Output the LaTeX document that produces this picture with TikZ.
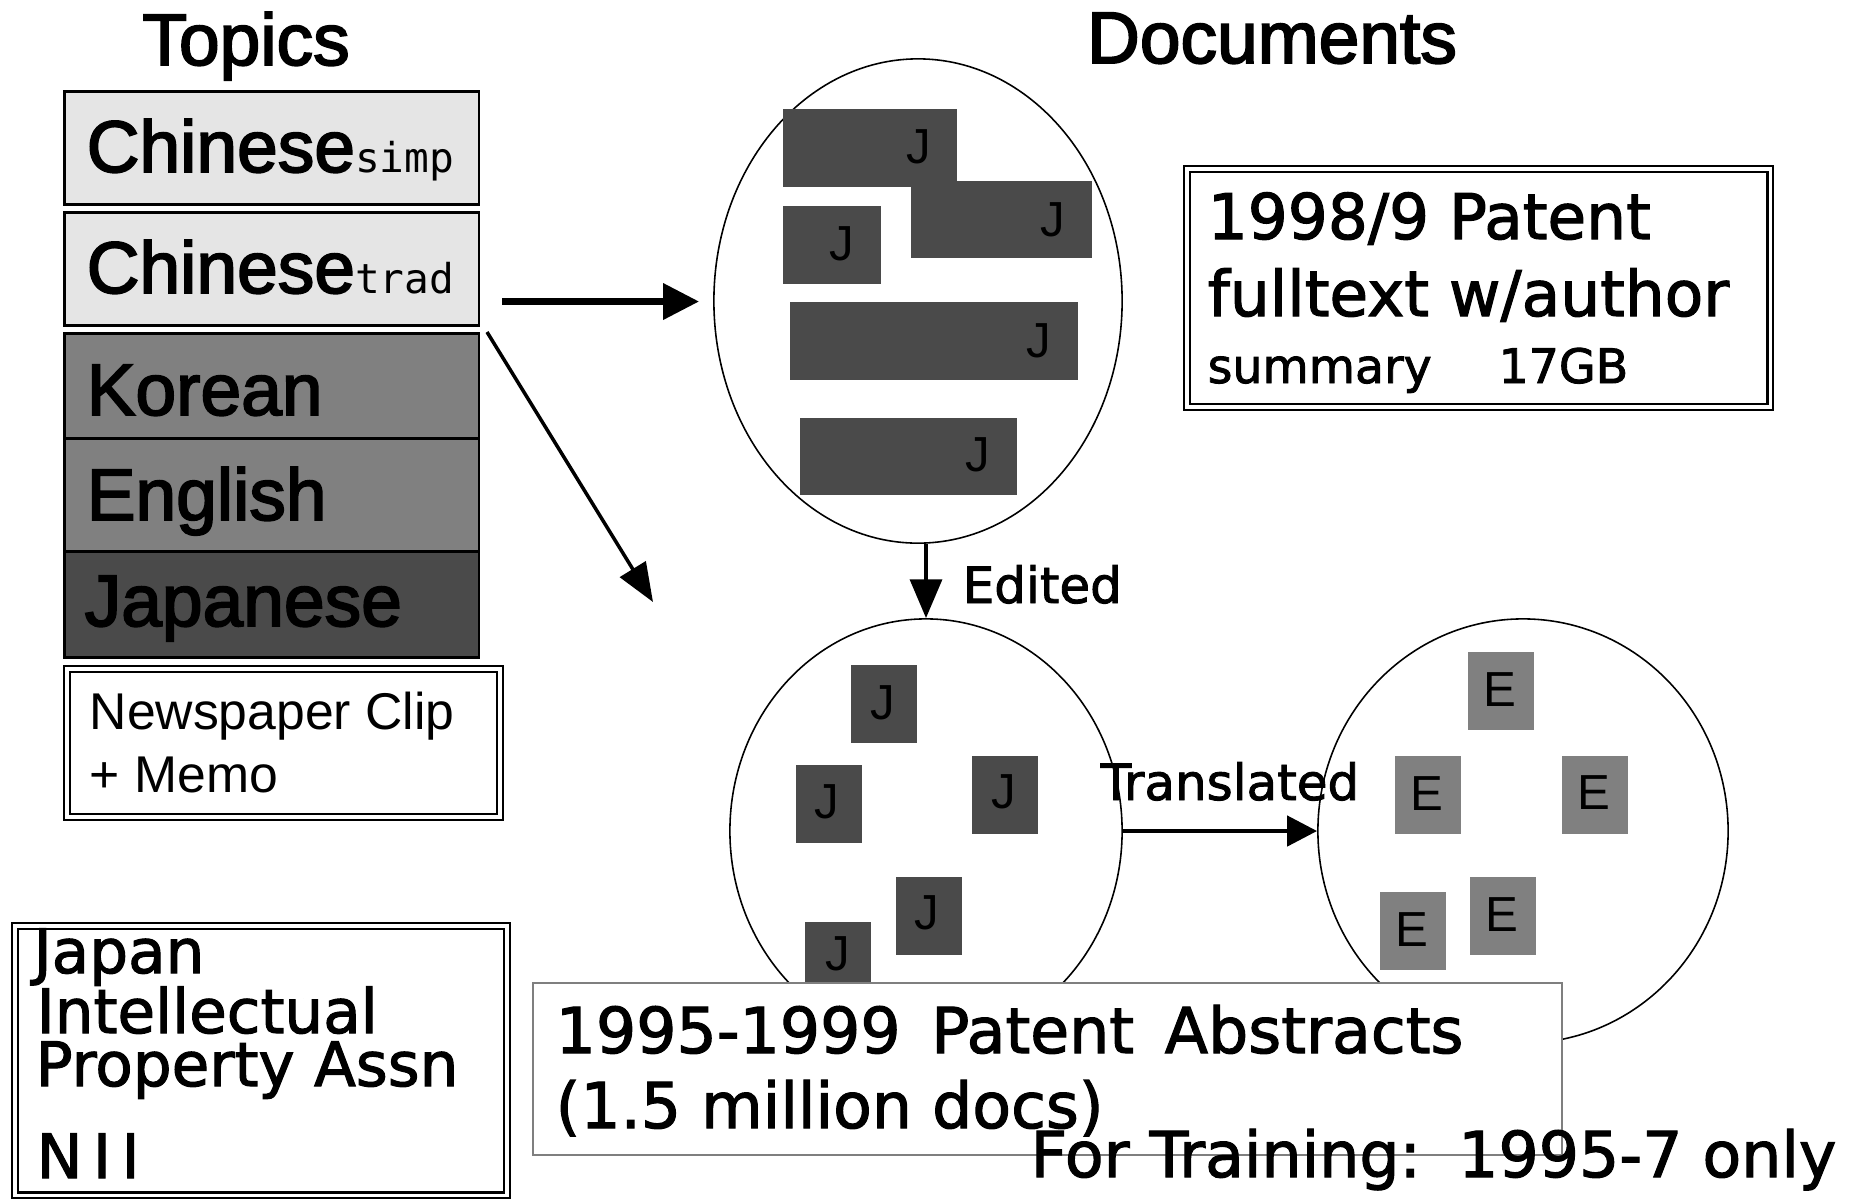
\documentclass[tikz,border=0pt]{standalone}
\usepackage{fontspec}
\setmainfont{Liberation Sans}
\newfontfamily\headf[FakeBold=2.5]{Liberation Sans}
\newfontfamily\gothf[FakeBold=1.8]{DejaVu Sans}
\newfontfamily\smallf{DejaVu Sans Mono}
\usetikzlibrary{shapes.geometric,arrows.meta}

\definecolor{lightfill}{HTML}{E5E5E5}
\definecolor{midfill}{HTML}{808080}
\definecolor{darkfill}{HTML}{4A4A4A}
\definecolor{thinframe}{HTML}{7F7F7F}

\newcommand\fs[1]{\fontsize{#1}{#1}\selectfont}
% rectangle node given by its top-left and bottom-right corners
\newcommand\boxat[6]{\node[#2, anchor=north west,
  minimum width={(#5-#3)*0.01cm}, minimum height={(#6-#4)*0.01cm}] (#1) at (#3,#4) {};}

\tikzset{
  tbox/.style={draw, line width=0.85pt, inner sep=0},
  docJ/.style={fill=darkfill, inner sep=0},
  docE/.style={fill=midfill, inner sep=0},
  letter/.style={inner sep=0, font=\fs{14}},
  dbl/.style={draw, line width=0.6pt, double=white, double distance=0.9pt, inner sep=0},
  lbl/.style={inner sep=0, anchor=base west},
  topic/.style={lbl, font=\fs{20.8}\headf},
  blob/.style={ellipse, draw, line width=0.45pt, inner sep=0},
  head/.style={inner sep=0, anchor=base, font=\fs{20.8}\headf},
}

\begin{document}
\begin{tikzpicture}[x=0.01cm, y=-0.01cm]
\fill[white] (0,0) rectangle (1858,1199);
\useasboundingbox (0,0) rectangle (1858,1199);

% headings
\node[head] (topics) at (246,65) {Topics};
\node[head] (documents) at (1272,63) {Documents};

% topic stack
\boxat{csimp}{tbox, fill=lightfill}{63}{89.5}{477.5}{202.5}
\boxat{ctrad}{tbox, fill=lightfill}{63}{210.5}{477.5}{323.5}
\boxat{korean}{tbox, fill=midfill}{63}{331.5}{477.5}{437}
\boxat{english}{tbox, fill=midfill}{63}{437}{477.5}{549.5}
\boxat{japanese}{tbox, fill=darkfill}{63}{549.5}{477.5}{655.5}
\node[topic] (csimpt) at (86,172) {Chinese{\fs{11.7}\smallf simp}};
\node[topic] (ctradt) at (86,293) {Chinese{\fs{11.7}\smallf trad}};
\node[topic] (koreant) at (86,415) {Korean};
\node[topic] (englisht) at (86,520) {English};
\node[topic] (japaneset) at (84,626) {Japanese};

% newspaper note
\boxat{news}{dbl}{66}{668}{499}{816}
\node[lbl, font=\fs{14.7}] (news1) at (89,729.6) {Newspaper Clip};
\node[lbl, font=\fs{14.7}] (news2) at (89,792) {+ Memo};

% provider box
\boxat{jipa}{dbl}{14}{925}{506}{1194}
\node[lbl, font=\fs{17.4}\gothf] (jipa1) at (33,973) {Japan};
\node[lbl, font=\fs{17.4}\gothf] (jipa2) at (36,1033) {Intellectual};
\node[lbl, font=\fs{17.4}\gothf] (jipa3) at (35,1086) {Property Assn};
\node[lbl, font=\fs{17.4}\gothf] (jipa4) at (36,1178) {N\kern3pt I\kern3pt I};

% document collections
\node[blob, minimum width=4.08cm, minimum height=4.84cm] (full) at (918,301) {};
\node[blob, minimum width=3.92cm, minimum height=4.24cm] (abs) at (926,831) {};
\node[blob, minimum width=4.10cm, minimum height=4.24cm] (trans) at (1523,831) {};

% full-text documents
\boxat{f1}{docJ}{782}{108}{956}{186}
\boxat{f2}{docJ}{910}{180}{1091}{257.6}
\boxat{f3}{docJ}{782}{205.5}{880}{283}
\boxat{f4}{docJ}{789}{301}{1077}{379}
\boxat{f5}{docJ}{799}{417}{1016}{494}
\node[letter] (f1l) at (919,147) {J};
\node[letter] (f2l) at (1053,220) {J};
\node[letter] (f3l) at (842,244) {J};
\node[letter] (f4l) at (1039,341) {J};
\node[letter] (f5l) at (978,455) {J};

% abstracts (Japanese)
\boxat{a1}{docJ}{850}{664}{916}{742}
\boxat{a2}{docJ}{795}{764}{861}{842}
\boxat{a3}{docJ}{971}{755}{1037}{833}
\boxat{a4}{docJ}{895}{876}{961}{954}
\boxat{a5}{docJ}{804}{921}{870}{999}
\node[letter] (a1l) at (883,703) {J};
\node[letter] (a2l) at (827,802) {J};
\node[letter] (a3l) at (1004,792) {J};
\node[letter] (a4l) at (927,913) {J};
\node[letter] (a5l) at (838,954) {J};

% abstracts (English)
\boxat{e1}{docE}{1467}{651}{1533}{729}
\boxat{e2}{docE}{1394}{755}{1460}{833}
\boxat{e3}{docE}{1561}{755}{1627}{833}
\boxat{e4}{docE}{1379}{891}{1445}{969}
\boxat{e5}{docE}{1469}{876}{1535}{954}
\node[letter] (e1l) at (1500,690) {E};
\node[letter] (e2l) at (1427,794) {E};
\node[letter] (e3l) at (1594,793) {E};
\node[letter] (e4l) at (1412,930) {E};
\node[letter] (e5l) at (1502,915) {E};

% full-text info box
\boxat{info}{dbl}{1186}{168}{1769}{406}
\node[lbl, font=\fs{17.9}\gothf] (info1) at (1207,239) {1998/9 Patent};
\node[lbl, font=\fs{17.9}\gothf] (info2) at (1207,316) {fulltext w/author};
\node[lbl, font=\fs{13.5}\gothf] (info3) at (1207,383) {summary\hspace{19pt}17GB};

% abstracts info box
\boxat{absbox}{draw=thinframe, line width=0.45pt, fill=white, inner sep=0}{532}{982}{1561}{1154}
\node[lbl, font=\fs{18}\gothf] (abs1) at (555,1053) {1995-1999\hspace{3pt} Patent\hspace{3pt} Abstracts};
\node[lbl, font=\fs{18}\gothf] (abs2) at (555,1128) {(1.5 million docs)};
\node[lbl, font=\fs{18}\gothf] (train) at (1030,1177) {For Training:\hspace{3pt} 1995-7 only};

% connectors
\coordinate (h0) at (502,301.5);
\coordinate (h1) at (699,301.5);
\coordinate (d0) at (487,332);
\coordinate (d1) at (653,602);
\draw[line width=1.8pt, -{Triangle[length=10.2pt, width=10pt]}] (h0) -- (h1);
\draw[line width=1pt, -{Triangle[length=11pt, width=8.5pt]}] (d0) -- (d1);
\draw[line width=1.2pt, -{Triangle[length=11pt, width=9pt]}] (abs.north |- full.south) -- (abs.north);
\draw[line width=1.3pt, -{Triangle[length=8.5pt, width=8.5pt]}] (abs.east) -- (trans.west);
\node[lbl, font=\fs{14.2}\gothf] (edited) at (962,603) {Edited};
\node[lbl, font=\fs{14.2}\gothf] (translated) at (1100,800) {Translated};
\end{tikzpicture}
\end{document}
